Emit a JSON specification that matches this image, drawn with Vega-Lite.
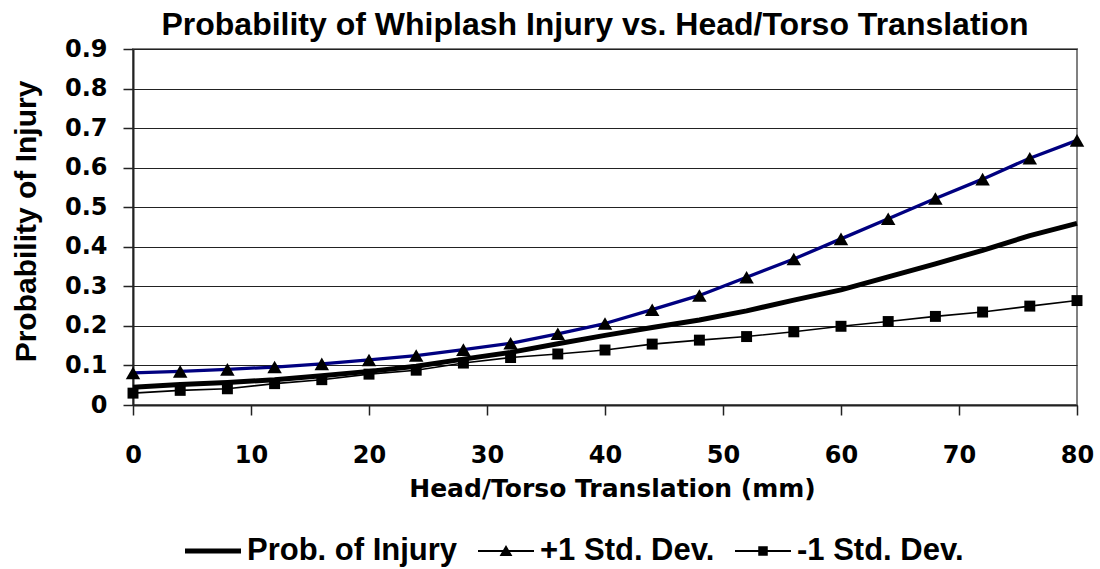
{
  "$schema": "https://vega.github.io/schema/vega-lite/v6.json",
  "width": 944,
  "height": 356,
  "autosize": "none",
  "padding": {"left": 133, "top": 49, "right": 23, "bottom": 164},
  "background": "white",
  "title": {
    "text": "Probability of Whiplash Injury vs. Head/Torso Translation",
    "font": "Liberation Sans",
    "fontSize": 32,
    "fontWeight": "bold",
    "color": "black",
    "anchor": "middle",
    "frame": "group",
    "baseline": "alphabetic",
    "offset": -30,
    "dx": -10
  },
  "config": {
    "view": {"stroke": "#808080", "strokeWidth": 2},
    "axis": {
      "domainColor": "#222222",
      "domainWidth": 2,
      "tickColor": "#222222",
      "tickWidth": 1.5,
      "tickSize": 10,
      "labelFont": "DejaVu Sans",
      "labelFontSize": 24,
      "labelFontWeight": "bold",
      "labelColor": "black",
      "titleColor": "black"
    }
  },
  "resolve": {"scale": {"shape": "independent", "size": "independent"}, "legend": {"shape": "independent"}},
  "data": {
    "values": [
      {"x": 0, "series": "Prob. of Injury", "p": 0.045},
      {"x": 4, "series": "Prob. of Injury", "p": 0.052},
      {"x": 8, "series": "Prob. of Injury", "p": 0.057},
      {"x": 12, "series": "Prob. of Injury", "p": 0.064},
      {"x": 16, "series": "Prob. of Injury", "p": 0.074},
      {"x": 20, "series": "Prob. of Injury", "p": 0.085},
      {"x": 24, "series": "Prob. of Injury", "p": 0.098},
      {"x": 28, "series": "Prob. of Injury", "p": 0.116},
      {"x": 32, "series": "Prob. of Injury", "p": 0.133},
      {"x": 36, "series": "Prob. of Injury", "p": 0.155},
      {"x": 40, "series": "Prob. of Injury", "p": 0.176},
      {"x": 44, "series": "Prob. of Injury", "p": 0.196},
      {"x": 48, "series": "Prob. of Injury", "p": 0.215},
      {"x": 52, "series": "Prob. of Injury", "p": 0.238},
      {"x": 56, "series": "Prob. of Injury", "p": 0.265},
      {"x": 60, "series": "Prob. of Injury", "p": 0.291},
      {"x": 64, "series": "Prob. of Injury", "p": 0.324},
      {"x": 68, "series": "Prob. of Injury", "p": 0.357},
      {"x": 72, "series": "Prob. of Injury", "p": 0.391},
      {"x": 76, "series": "Prob. of Injury", "p": 0.428},
      {"x": 80, "series": "Prob. of Injury", "p": 0.459},
      {"x": 0, "series": "+1 Std. Dev.", "p": 0.081},
      {"x": 4, "series": "+1 Std. Dev.", "p": 0.085},
      {"x": 8, "series": "+1 Std. Dev.", "p": 0.09},
      {"x": 12, "series": "+1 Std. Dev.", "p": 0.096},
      {"x": 16, "series": "+1 Std. Dev.", "p": 0.104},
      {"x": 20, "series": "+1 Std. Dev.", "p": 0.114},
      {"x": 24, "series": "+1 Std. Dev.", "p": 0.125},
      {"x": 28, "series": "+1 Std. Dev.", "p": 0.14},
      {"x": 32, "series": "+1 Std. Dev.", "p": 0.156},
      {"x": 36, "series": "+1 Std. Dev.", "p": 0.18},
      {"x": 40, "series": "+1 Std. Dev.", "p": 0.206},
      {"x": 44, "series": "+1 Std. Dev.", "p": 0.241},
      {"x": 48, "series": "+1 Std. Dev.", "p": 0.277},
      {"x": 52, "series": "+1 Std. Dev.", "p": 0.323},
      {"x": 56, "series": "+1 Std. Dev.", "p": 0.369},
      {"x": 60, "series": "+1 Std. Dev.", "p": 0.42},
      {"x": 64, "series": "+1 Std. Dev.", "p": 0.471},
      {"x": 68, "series": "+1 Std. Dev.", "p": 0.522},
      {"x": 72, "series": "+1 Std. Dev.", "p": 0.571},
      {"x": 76, "series": "+1 Std. Dev.", "p": 0.624},
      {"x": 80, "series": "+1 Std. Dev.", "p": 0.669},
      {"x": 0, "series": "-1 Std. Dev.", "p": 0.03},
      {"x": 4, "series": "-1 Std. Dev.", "p": 0.037},
      {"x": 8, "series": "-1 Std. Dev.", "p": 0.041},
      {"x": 12, "series": "-1 Std. Dev.", "p": 0.054},
      {"x": 16, "series": "-1 Std. Dev.", "p": 0.064},
      {"x": 20, "series": "-1 Std. Dev.", "p": 0.078},
      {"x": 24, "series": "-1 Std. Dev.", "p": 0.088},
      {"x": 28, "series": "-1 Std. Dev.", "p": 0.106},
      {"x": 32, "series": "-1 Std. Dev.", "p": 0.12},
      {"x": 36, "series": "-1 Std. Dev.", "p": 0.129},
      {"x": 40, "series": "-1 Std. Dev.", "p": 0.139},
      {"x": 44, "series": "-1 Std. Dev.", "p": 0.154},
      {"x": 48, "series": "-1 Std. Dev.", "p": 0.164},
      {"x": 52, "series": "-1 Std. Dev.", "p": 0.173},
      {"x": 56, "series": "-1 Std. Dev.", "p": 0.185},
      {"x": 60, "series": "-1 Std. Dev.", "p": 0.199},
      {"x": 64, "series": "-1 Std. Dev.", "p": 0.211},
      {"x": 68, "series": "-1 Std. Dev.", "p": 0.224},
      {"x": 72, "series": "-1 Std. Dev.", "p": 0.235},
      {"x": 76, "series": "-1 Std. Dev.", "p": 0.25},
      {"x": 80, "series": "-1 Std. Dev.", "p": 0.264}
    ]
  },
  "encoding": {
    "x": {
      "field": "x",
      "type": "quantitative",
      "scale": {"domain": [0, 80], "nice": false, "zero": false},
      "axis": {
        "title": "Head/Torso Translation (mm)",
        "values": [0, 10, 20, 30, 40, 50, 60, 70, 80],
        "grid": false,
        "labelPadding": 28,
        "labelFlush": false,
        "titleFont": "DejaVu Sans",
        "titleFontSize": 25,
        "titleFontWeight": "bold",
        "titleBaseline": "alphabetic",
        "titleX": 479,
        "titleY": 91,
        "titleAnchor": null
      }
    },
    "y": {
      "field": "p",
      "type": "quantitative",
      "scale": {"domain": [0, 0.9], "nice": false},
      "axis": {
        "title": "Probability of Injury",
        "values": [0, 0.1, 0.2, 0.3, 0.4, 0.5, 0.6, 0.7, 0.8, 0.9],
        "format": ".1~f",
        "grid": true,
        "gridColor": "#222222",
        "gridWidth": 1,
        "labelPadding": 16,
        "labelFlush": false,
        "titleFont": "Liberation Sans",
        "titleFontSize": 30,
        "titleFontWeight": "bold",
        "titleAngle": 270,
        "titleBaseline": "alphabetic",
        "titleAlign": "center",
        "titleX": -98,
        "titleY": 172
      }
    }
  },
  "layer": [
    {
      "mark": {"type": "line", "strokeJoin": "round", "strokeCap": "butt"},
      "encoding": {
        "color": {
          "field": "series",
          "type": "nominal",
          "scale": {"domain": ["Prob. of Injury", "+1 Std. Dev.", "-1 Std. Dev."], "range": ["#000000", "#000080", "#000000"]},
          "legend": null
        },
        "strokeWidth": {
          "field": "series",
          "type": "nominal",
          "scale": {"domain": ["Prob. of Injury", "+1 Std. Dev.", "-1 Std. Dev."], "range": [5, 1.6, 1.6]},
          "legend": null
        }
      }
    },
    {
      "transform": [{"filter": "datum.series !== 'Prob. of Injury'"}],
      "mark": {"type": "point", "filled": true, "opacity": 1, "color": "black"},
      "encoding": {
        "shape": {
          "field": "series",
          "type": "nominal",
          "scale": {"domain": ["+1 Std. Dev.", "-1 Std. Dev."], "range": ["triangle-up", "square"]},
          "legend": null
        },
        "size": {
          "field": "series",
          "type": "nominal",
          "scale": {"domain": ["+1 Std. Dev.", "-1 Std. Dev."], "range": [210, 120]},
          "legend": null
        }
      }
    },
    {
      "mark": {"type": "point", "filled": true, "opacity": 0, "color": "black", "size": 3136},
      "encoding": {
        "shape": {
          "field": "series",
          "type": "nominal",
          "sort": null,
          "scale": {
            "domain": ["Prob. of Injury", "+1 Std. Dev.", "-1 Std. Dev."],
            "range": [
              "M-1,-0.09H1V0.09H-1Z",
              "M-1,-0.032H1V0.032H-1Z M0,-0.21L0.23,0.18L-0.23,0.18Z",
              "M-1,-0.032H1V0.032H-1Z M-0.17,-0.17H0.17V0.17H-0.17Z"
            ]
          },
          "legend": {
            "title": null,
            "orient": "none",
            "direction": "horizontal",
            "legendX": 52,
            "legendY": 474,
            "padding": 0,
            "labelFont": "Liberation Sans",
            "labelFontSize": 31,
            "labelFontWeight": "bold",
            "labelColor": "black",
            "labelOffset": 6,
            "labelLimit": 400,
            "columnPadding": 20,
            "symbolSize": 3136,
            "symbolFillColor": "black",
            "symbolOpacity": 1,
            "symbolStrokeWidth": 0,
            "encode": {
              "symbols": {
                "update": {
                  "opacity": {"value": 1},
                  "fill": {"value": "black"},
                  "fillOpacity": {"value": 1},
                  "size": {"value": 3136}
                }
              }
            }
          }
        }
      }
    }
  ]
}
